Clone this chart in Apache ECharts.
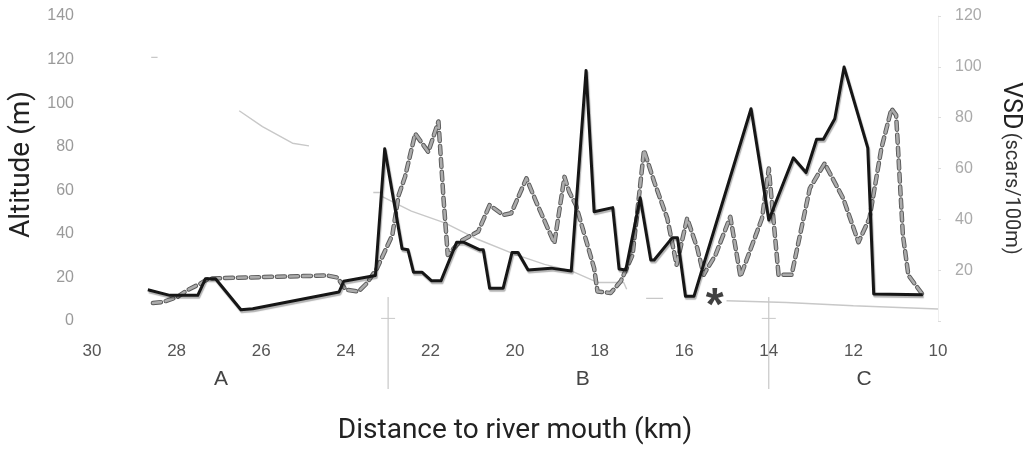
<!DOCTYPE html>
<html><head><meta charset="utf-8">
<script src="https://cdn.jsdelivr.net/npm/echarts@6/dist/echarts.min.js"></script>
<style>html,body{margin:0;padding:0;background:#fff}#c{width:1031px;height:450px}</style>
</head><body><div id="c"></div>
<script>
// ---- data ----
const solidKm  = [28.68,28.16,27.5,27.32,27.08,26.48,26.2,24.16,24.05,23.3,23.08,22.67,22.53,22.4,22.2,21.97,21.75,21.38,21.22,20.83,20.75,20.6,20.28,20.07,19.93,19.69,19.15,18.67,18.32,18.13,17.69,17.54,17.38,17.04,16.79,16.71,16.28,16.16,15.97,15.77,14.42,14.0,13.42,13.12,12.87,12.71,12.44,12.22,11.66,11.52,10.36];
const solidVsd = [12.3,10.1,10.1,16.6,16.6,4.4,4.8,11.4,15.6,17.9,67.8,28.4,28,19.2,19.2,15.8,15.8,31,31,28,28,12.9,12.9,27,27,20.1,20.8,19.7,98.6,43,44.6,20.5,20.1,48.5,24,24,32.8,32.8,9.7,9.7,83.5,39.7,64.2,58.4,71.5,71.5,79.6,99.9,68.1,10.6,10.3];

const dashedKm  = [28.56,28.32,28.0,27.73,27.46,27.26,26.87,24.44,24.2,24.0,23.7,23.5,23.26,22.9,22.75,22.6,22.36,22.05,21.81,21.69,21.59,21.3,20.87,20.6,20.28,20.09,19.73,19.5,19.07,18.83,18.72,18.56,18.13,18.05,17.74,17.5,17.22,16.95,16.71,16.4,16.18,15.93,15.69,15.54,15.26,14.91,14.67,14.16,14.0,13.77,13.46,13.03,12.68,12.24,11.88,11.62,11.34,11.1,10.99,10.83,10.7,10.36];
const dashedVsd = [7.1,7.5,9.3,12.3,14.5,16.6,16.9,17.9,17.1,12.3,11.6,14.9,20.8,33.8,49.5,56.7,73.7,66.5,78.5,48.2,26,31.3,35.2,45.6,41.7,42.4,56.1,46.9,30.6,56.7,50.9,45.6,20.8,11.6,11,15.6,26,67.2,54.8,40.4,22.1,40.4,28.6,18.2,26,41,17.5,40.4,60,18.2,18.2,52.2,62,48.2,31,40.4,67.8,83.5,81,33.8,18,10.3];

// altitude profile (visible parts only; null = gap)
const altKm = [28.6,28.45,27.5,26.52,25.97,25.26,24.87,24.0,23.35,23.17,23.15,22.45,21.66,20.87,20.0,19.3,18.67,18.05,17.43,17.36,17.1,16.9,16.5,15.8,15.0,13.58,12.0,10.0];
const altM  = [121,121,null,96.5,89.2,81.6,80.4,null,59,59,57.2,50.4,45,37.4,30.6,26,23,17.7,17.7,14.6,null,10.4,10.4,null,9.3,8.5,7,5.5];

const asteriskPoint = [15.3, 10];
const boundaryKm = [23, 14];
const sectionNames = ['A','B','C'];
const sectionKm = [26.95, 18.4, 11.75];

// ---- chart ----
const LAB = "'Liberation Sans Narrow','Liberation Sans',Arial,sans-serif";
const TITLE = "Roboto,'Liberation Sans',Arial,sans-serif";
const zip = (a, b) => a.map((v, i) => [v, b[i] == null ? '-' : b[i]]);

const chart = echarts.init(document.getElementById('c'), null, {renderer:'canvas'});
const dash = [8, 5];
chart.setOption({
  backgroundColor: '#fff',
  animation: false,
  grid: {left: 92, right: 89, top: 16, bottom: 128},
  xAxis: {
    type: 'value', inverse: true, min: 10, max: 30, interval: 2,
    splitLine: {show:false}, axisTick: {show:false}, axisLine: {show:false},
    axisLabel: {color:'#555', fontFamily: LAB, fontSize: 17, margin: 22},
    name: 'Distance to river mouth (km)', nameLocation: 'middle', nameGap: 96,
    nameTextStyle: {color:'#222', fontFamily: TITLE, fontSize: 28}
  },
  yAxis: [{
    type: 'value', min: 0, max: 140, interval: 20, position: 'left',
    splitLine: {show:false}, axisTick: {show:false}, axisLine: {show:false},
    axisLabel: {color:'#9a9a9a', fontFamily: LAB, fontSize: 16, margin: 18},
    name: 'Altitude (m)', nameLocation: 'middle', nameGap: 50, nameRotate: 90,
    nameTextStyle: {color:'#222', fontFamily: TITLE, fontSize: 28, padding: [0, 0, 0, 8]}
  }, {
    type: 'value', min: 0, max: 120, interval: 20, position: 'right',
    splitLine: {show:false},
    axisTick: {show:true, length: 3, inside: false, lineStyle:{color:'#ddd'}},
    axisLine: {show:true, lineStyle:{color:'#eee', width:1}},
    axisLabel: {color:'#aaa', fontFamily: LAB, fontSize: 16, margin: 17,
      formatter: v => v === 0 ? '' : String(v)},
    name: '{a|VSD} {b|(scars/100m)}', nameLocation: 'middle', nameGap: 60, nameRotate: -90,
    nameTextStyle: {color:'#222', rich: {
      a: {fontFamily: TITLE, fontSize: 25, color:'#222'},
      b: {fontFamily: TITLE, fontSize: 20, color:'#333'}
    }}
  }],
  series: [{
    type: 'line', name: 'Altitude', yAxisIndex: 0, data: zip(altKm, altM),
    showSymbol: false, connectNulls: false,
    lineStyle: {color:'#c8c8c8', width: 1.4}, z: 1
  }, {
    type: 'line', name: 'VSD dashed outline', yAxisIndex: 1, data: zip(dashedKm, dashedVsd),
    showSymbol: false,
    lineStyle: {color:'#5a5a5a', width: 4.5, type: dash, cap: 'round', join: 'round'}, z: 2
  }, {
    type: 'line', name: 'VSD dashed', yAxisIndex: 1, data: zip(dashedKm, dashedVsd),
    showSymbol: false,
    lineStyle: {color:'#ababab', width: 2.6, type: dash, cap: 'round', join: 'round'}, z: 3
  }, {
    type: 'line', name: 'VSD solid', yAxisIndex: 1, data: zip(solidKm, solidVsd),
    showSymbol: false,
    lineStyle: {color:'#161616', width: 3, join: 'round',
      shadowColor: 'rgba(0,0,0,0.3)', shadowOffsetY: 2, shadowOffsetX: 1, shadowBlur: 1}, z: 4
  }, {
    type: 'scatter', yAxisIndex: 0, data: [asteriskPoint], symbolSize: 1,
    itemStyle: {color: 'rgba(0,0,0,0)'},
    label: {show: true, formatter: '*', position: 'inside', offset: [1, 8],
      fontFamily: "'Liberation Sans',Arial,sans-serif", fontWeight: 'bold', fontSize: 46, color: '#111'}, z: 5
  }]
});

// dividers and section labels positioned through the axes
function addGraphics(){
  const g = [];
  const yTop = chart.convertToPixel({yAxisIndex:0}, 11);
  const yCross = chart.convertToPixel({yAxisIndex:0}, 1.2);
  const yBottom = chart.convertToPixel({yAxisIndex:0}, 0) + 68;
  const yLabel = chart.convertToPixel({yAxisIndex:0}, 0) + 58;
  boundaryKm.forEach(km => {
    const x = chart.convertToPixel({xAxisIndex:0}, km);
    g.push({type:'line', shape:{x1:x, y1:yTop, x2:x, y2:yBottom}, style:{stroke:'#bdbdbd', lineWidth:1}, silent:true});
    g.push({type:'line', shape:{x1:x-7, y1:yCross, x2:x+7, y2:yCross}, style:{stroke:'#c8c8c8', lineWidth:1}, silent:true});
  });
  sectionNames.forEach((n, i) => {
    const x = chart.convertToPixel({xAxisIndex:0}, sectionKm[i]);
    g.push({type:'text', x: x, y: yLabel, style:{text:n, fill:'#444', font:"21px " + LAB, textAlign:'center', textVerticalAlign:'middle'}, silent:true});
  });
  chart.setOption({graphic: g});
}
addGraphics();
</script>
</body></html>
